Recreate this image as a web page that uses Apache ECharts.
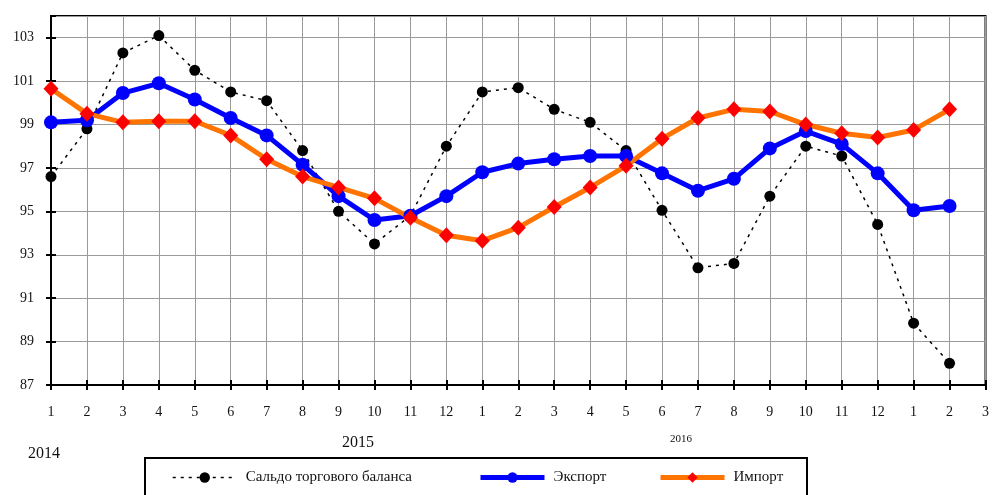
<!DOCTYPE html>
<html>
<head>
<meta charset="utf-8">
<script src="https://cdn.jsdelivr.net/npm/echarts@6/dist/echarts.min.js"></script>
<style>
  html, body { margin: 0; padding: 0; background: #fff; }
  #chart { width: 992px; height: 495px; }
</style>
</head>
<body>
<div id="chart"></div>
<script>
// месяцы 2014-2016
var months = ['1', '2', '3', '4', '5', '6', '7', '8', '9', '10', '11', '12',
  '1', '2', '3', '4', '5', '6', '7', '8', '9', '10', '11', '12',
  '1', '2', '3']
var years = ['2014', '2015', '2016']

var saldo = [96.6, 98.8, 102.3, 103.1, 101.5, 100.5, 100.1, 97.8, 95.0, 93.5, 94.8, 98.0,
  100.5, 100.7, 99.7, 99.1, 97.8, 95.05, 92.4, 92.6, 95.7, 98.0, 97.55, 94.4,
  89.85, 88.0]
var eksport = [99.1, 99.2, 100.45, 100.9, 100.15, 99.3, 98.5, 97.15, 95.7, 94.6, 94.8, 95.7,
  96.8, 97.2, 97.4, 97.55, 97.55, 96.75, 95.95, 96.5, 97.9, 98.7, 98.1, 96.75,
  95.05, 95.25]
var import_ = [100.65, 99.5, 99.1, 99.15, 99.15, 98.5, 97.4, 96.6, 96.1, 95.6, 94.7, 93.9,
  93.65, 94.25, 95.2, 96.1, 97.1, 98.35, 99.3, 99.7, 99.6, 99.0, 98.6, 98.4,
  98.75, 99.7]

var names = ['Сальдо торгового баланса', 'Экспорт', 'Импорт']
var serif = 'Liberation Serif'

// одна легенда на каждую серию, чтобы расставить их как в оригинале
var legendLeft = [172, 478, 658]
var legends = names.map(function (name, i) {
  return {
    left: legendLeft[i],
    top: 470,
    padding: 0,
    itemWidth: 64,
    itemHeight: 13,
    lineStyle: { width: 'inherit' },
    textStyle: { fontFamily: serif, fontSize: 15, color: '#111', padding: [0, 0, 0, 4] },
    data: [name]
  }
})

var tickStyle = { color: '#000', width: 2 }

var chart = echarts.init(document.getElementById('chart'))
chart.setOption({
  animation: false,
  backgroundColor: '#fff',
  textStyle: { fontFamily: serif },
  grid: {
    left: 51, right: 4, top: 16, bottom: 110,
    show: true,
    borderColor: '#000',
    borderWidth: 2
  },
  xAxis: [
    {
      type: 'category',
      data: months,
      boundaryGap: false,
      axisLine: { lineStyle: { color: '#000', width: 2 } },
      axisTick: { show: true, interval: 0, length: 5, lineStyle: tickStyle },
      axisLabel: { interval: 0, color: '#111', fontSize: 14, fontFamily: serif, margin: 20 },
      splitLine: { show: true, interval: 0, lineStyle: { color: '#9a9a9a', width: 1 } }
    },
    {
      // только засечки внутрь
      type: 'category',
      data: months,
      position: 'bottom',
      boundaryGap: false,
      axisLine: { show: false },
      axisTick: { show: true, inside: true, interval: 0, length: 5, lineStyle: tickStyle },
      axisLabel: { show: false },
      splitLine: { show: false }
    }
  ],
  yAxis: [
    {
      type: 'value',
      min: 87,
      max: 104,
      interval: 2,
      axisLine: { show: true, lineStyle: { color: '#000', width: 2 } },
      axisTick: { show: true, length: 5, lineStyle: tickStyle },
      axisLabel: { color: '#111', fontSize: 14, fontFamily: serif, margin: 17, showMaxLabel: false },
      splitLine: { show: true, lineStyle: { color: '#9a9a9a', width: 1 } }
    },
    {
      type: 'value',
      position: 'left',
      min: 87,
      max: 104,
      interval: 2,
      axisLine: { show: false },
      axisTick: { show: true, inside: true, length: 5, lineStyle: tickStyle },
      axisLabel: { show: false, showMaxLabel: false },
      splitLine: { show: false }
    }
  ],
  legend: legends,
  graphic: [
    { type: 'rect', shape: { x: 145, y: 458, width: 662, height: 60 }, style: { fill: 'none', stroke: '#000', lineWidth: 2 } },
    { type: 'text', left: 28, top: 446, style: { text: years[0], font: '16px "Liberation Serif"', fill: '#111' } },
    { type: 'text', left: 342, top: 435, style: { text: years[1], font: '16px "Liberation Serif"', fill: '#111' } },
    { type: 'text', left: 670, top: 434, style: { text: years[2], font: '11px "Liberation Serif"', fill: '#111' } }
  ],
  series: [
    {
      name: names[0],
      type: 'line',
      data: saldo,
      symbol: 'circle',
      symbolSize: 11,
      itemStyle: { color: '#000' },
      lineStyle: { color: '#000', width: 1.5, type: [3, 5] }
    },
    {
      name: names[1],
      type: 'line',
      data: eksport,
      symbol: 'circle',
      symbolSize: 14,
      itemStyle: { color: '#0000ff' },
      lineStyle: { color: '#0000ff', width: 5 }
    },
    {
      name: names[2],
      type: 'line',
      data: import_,
      symbol: 'diamond',
      symbolSize: [15, 16],
      itemStyle: { color: '#ff0000' },
      lineStyle: { color: '#ff7300', width: 5 }
    }
  ]
})
</script>
</body>
</html>
